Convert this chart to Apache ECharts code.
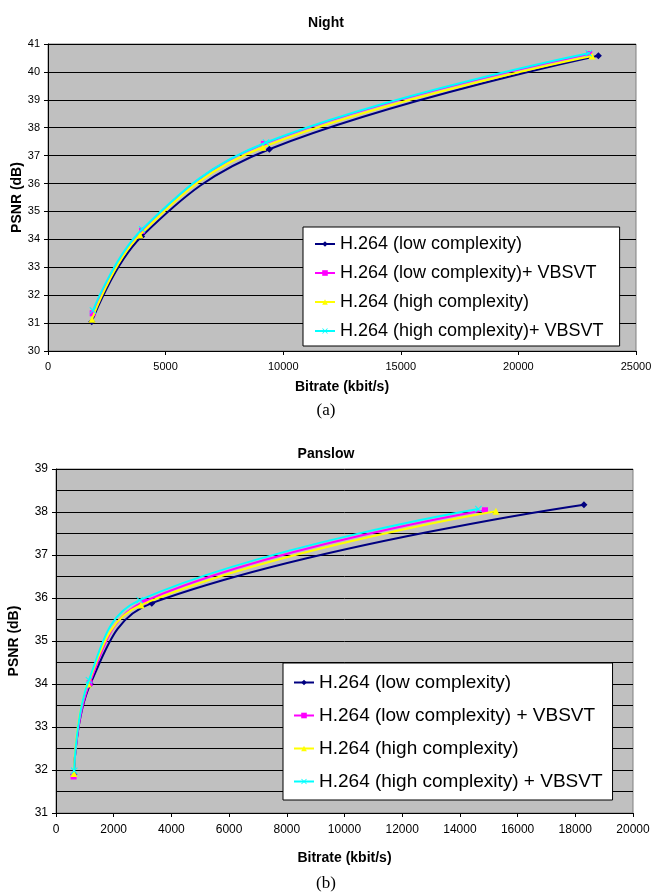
<!DOCTYPE html>
<html>
<head>
<meta charset="utf-8">
<script src="https://cdn.jsdelivr.net/npm/echarts@6/dist/echarts.min.js"></script>
<style>
  html, body { margin: 0; padding: 0; background: #fff; }
  #chart { width: 652px; height: 894px; }
</style>
</head>
<body>
<div id="chart"></div>
<script>
// 시리즈 이름
const seriesNamesA = ['H.264 (low complexity)', 'H.264 (low complexity)+ VBSVT',
                      'H.264 (high complexity)', 'H.264 (high complexity)+ VBSVT'];
const seriesNamesB = ['H.264 (low complexity)', 'H.264 (low complexity) + VBSVT',
                      'H.264 (high complexity)', 'H.264 (high complexity) + VBSVT'];

// (a) Night
const nightLowX = [1860, 3980, 9410, 23400];
const nightLowY = [31.05, 34.1, 37.23, 40.58];
const nightLowVX = [1900, 4000, 9180, 23010];
const nightLowVY = [31.35, 34.31, 37.42, 40.64];
const nightHighX = [1870, 3910, 9130, 23130];
const nightHighY = [31.14, 34.16, 37.3, 40.57];
const nightHighVX = [1910, 4000, 9270, 22990];
const nightHighVY = [31.45, 34.36, 37.47, 40.67];

// (b) Panslow
const panLowX = [620, 1190, 3320, 18300];
const panLowY = [31.9, 34.0, 35.88, 38.17];
const panLowVX = [610, 1165, 3060, 14870];
const panLowVY = [31.85, 34.02, 35.92, 38.04];
const panHighX = [620, 1110, 2950, 15250];
const panHighY = [31.92, 34.0, 35.84, 38.02];
const panHighVX = [630, 1140, 2900, 14640];
const panHighVY = [31.98, 34.09, 35.95, 38.07];

const COLORS = ['#000080', '#ff00ff', '#ffff00', '#00ffff'];
const SYMBOLS = ['diamond', 'rect', 'triangle',
  'path://M0,1 L1,0 L5,4 L9,0 L10,1 L6,5 L10,9 L9,10 L5,6 L1,10 L0,9 L4,5 Z'];
const FONT = 'Liberation Sans, Arial, sans-serif';

const zip = (xs, ys) => xs.map((x, i) => [x, ys[i]]);

function makeSeries(name, idx, gridIdx, xs, ys) {
    return {
        name: name,
        type: 'line',
        xAxisIndex: gridIdx,
        yAxisIndex: gridIdx,
        data: zip(xs, ys),
        smooth: 0.4,
        symbol: SYMBOLS[idx],
        symbolSize: idx === 1 ? 6 : 7,
        showAllSymbol: true,
        lineStyle: { color: COLORS[idx], width: 2 },
        itemStyle: { color: COLORS[idx] },
        z: 2 + idx
    };
}

// x축 설정
function valueAxisX(gridIdx, max, interval, nameGap, fontSize, margin) {
    return {
        type: 'value', gridIndex: gridIdx, min: 0, max: max, interval: interval,
        name: 'Bitrate (kbit/s)', nameLocation: 'middle', nameGap: nameGap,
        nameMoveOverlap: false,
        nameTextStyle: { fontFamily: FONT, fontWeight: 'bold', fontSize: 14, color: '#000' },
        axisLine: { show: true, lineStyle: { color: '#000', width: 1 } },
        axisTick: { show: true, length: 4, lineStyle: { color: '#000' } },
        axisLabel: { fontFamily: FONT, fontSize: fontSize, color: '#000', margin: margin,
                     formatter: v => String(v) },
        splitLine: { show: false }
    };
}

// y축 설정 (minor: 0.5 dB 보조 격자선)
function valueAxisY(gridIdx, min, max, nameGap, minor, fontSize) {
    return {
        type: 'value', gridIndex: gridIdx, min: min, max: max, interval: 1,
        name: 'PSNR (dB)', nameLocation: 'middle', nameGap: nameGap, nameRotate: 90,
        nameMoveOverlap: false,
        nameTextStyle: { fontFamily: FONT, fontWeight: 'bold', fontSize: 14, color: '#000' },
        axisLine: { show: true, lineStyle: { color: '#000', width: 1 } },
        axisTick: { show: true, length: 4, lineStyle: { color: '#000' } },
        axisLabel: { fontFamily: FONT, fontSize: fontSize, color: '#000', margin: 8 },
        splitLine: { show: true, lineStyle: { color: '#000', width: 1 } },
        minorTick: { show: false, splitNumber: 2 },
        minorSplitLine: { show: minor, lineStyle: { color: '#000', width: 1 } }
    };
}

function legendBox(names, left, top, gap, fontSize, padding) {
    return {
        data: names,
        orient: 'vertical',
        left: left, top: top,
        backgroundColor: '#fff',
        borderColor: '#000', borderWidth: 1,
        padding: padding,
        itemGap: gap,
        itemWidth: 20, itemHeight: 7,
        textStyle: { fontFamily: FONT, fontSize: fontSize, color: '#000' }
    };
}

const chart = echarts.init(document.getElementById('chart'));

const namesA = seriesNamesA;
const namesB = seriesNamesB;

const option = {
    animation: false,
    backgroundColor: '#fff',
    title: [
        { text: 'Night', left: 'center', top: 11, textStyle: { fontFamily: FONT, fontSize: 14, fontWeight: 'bold', color: '#000' } },
        { text: 'Panslow', left: 'center', top: 442, textStyle: { fontFamily: FONT, fontSize: 14, fontWeight: 'bold', color: '#000' } },
        { text: '(a)', left: 'center', top: 397, textStyle: { fontFamily: 'Liberation Serif, serif', fontSize: 17, fontWeight: 'normal', color: '#000' } },
        { text: '(b)', left: 'center', top: 870, textStyle: { fontFamily: 'Liberation Serif, serif', fontSize: 17, fontWeight: 'normal', color: '#000' } }
    ],
    grid: [
        { left: 48, right: 16, top: 44, height: 307, outerBoundsMode: 'none', containLabel: false,
          show: true, backgroundColor: '#c0c0c0', borderColor: '#808080', borderWidth: 1 },
        { left: 56, right: 19, top: 469, height: 344, outerBoundsMode: 'none', containLabel: false,
          show: true, backgroundColor: '#c0c0c0', borderColor: '#808080', borderWidth: 1 }
    ],
    xAxis: [
        valueAxisX(0, 25000, 5000, 29, 11, 10),
        valueAxisX(1, 20000, 2000, 38, 12, 11)
    ],
    yAxis: [
        valueAxisY(0, 30, 41, 24, false, 11),
        valueAxisY(1, 31, 39, 35, true, 12)
    ],
    legend: [
        legendBox(namesA, 303, 227, 11, 18, [8, 16, 6, 11]),
        legendBox(namesB, 283, 663, 14, 19, [10, 10, 9, 10])
    ],
    series: [
        makeSeries(namesA[0], 0, 0, nightLowX, nightLowY),
        makeSeries(namesA[1], 1, 0, nightLowVX, nightLowVY),
        makeSeries(namesA[2], 2, 0, nightHighX, nightHighY),
        makeSeries(namesA[3], 3, 0, nightHighVX, nightHighVY),
        makeSeries(namesB[0], 0, 1, panLowX, panLowY),
        makeSeries(namesB[1], 1, 1, panLowVX, panLowVY),
        makeSeries(namesB[2], 2, 1, panHighX, panHighY),
        makeSeries(namesB[3], 3, 1, panHighVX, panHighVY)
    ]
};

chart.setOption(option);
</script>
</body>
</html>
